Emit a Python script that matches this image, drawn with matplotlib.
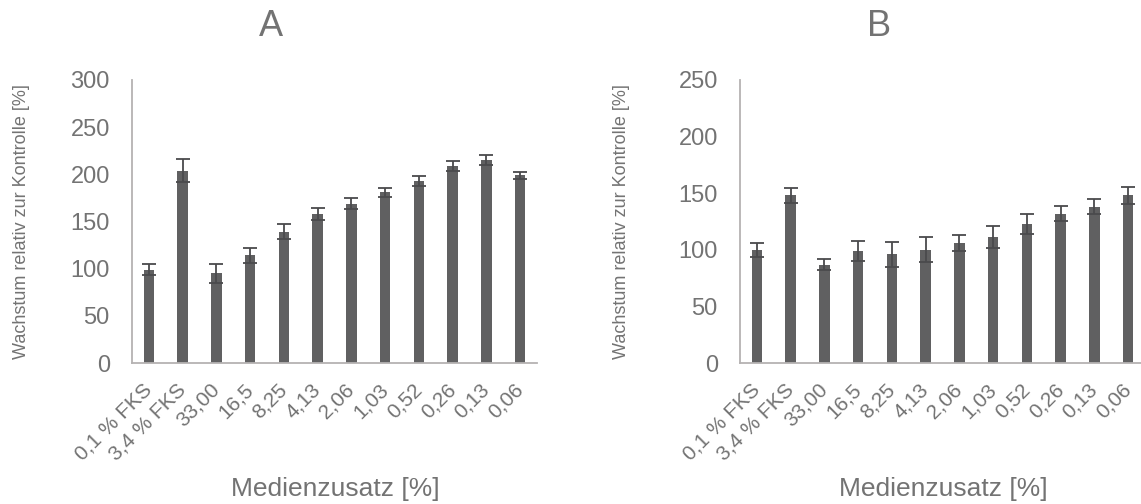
import matplotlib
matplotlib.use("Agg")
import matplotlib.pyplot as plt
import numpy as np

plt.rcParams["font.family"] = ["Liberation Sans", "DejaVu Sans"]

categories = ["0,1 % FKS", "3,4 % FKS", "33,00", "16,5", "8,25", "4,13",
              "2,06", "1,03", "0,52", "0,26", "0,13", "0,06"]

growth_a = [99, 204, 95, 114, 139, 158, 169, 181, 193, 209, 215, 199]
error_a = [6, 12, 10, 8, 8, 6, 6, 5, 5, 5, 5, 4]

growth_b = [100, 148, 87, 99, 96, 100, 106, 111.5, 123, 132, 138, 148]
error_b = [6, 7, 5, 9, 11, 11, 7, 9.5, 9, 6.5, 6.5, 7.5]

panels = [
    ("A", growth_a, error_a, 300, 132, 22),
    ("B", growth_b, error_b, 250, 740, 622),
]

W, H = 1141, 504
fig = plt.figure(figsize=(W / 100, H / 100), dpi=100)

bar_color = "#606061"
err_color = "#4a4a4c"
text_color = "#737373"
spine_color = "#b5b2b2"

ax_w, ax_top, ax_bot = 405, 80, 363

for title, vals, errs, ymax, left, ylab_x in panels:
    ax = fig.add_axes([left / W, 1 - ax_bot / H, ax_w / W, (ax_bot - ax_top) / H])
    x = np.arange(len(categories))
    ax.bar(x, vals, width=0.31, color=bar_color, zorder=2)
    ax.errorbar(x, vals, yerr=errs, fmt="none", ecolor=err_color,
                elinewidth=1.3, capsize=4.8, capthick=1.3, zorder=3)
    ax.set_xlim(-0.5, len(categories) - 0.5)
    ax.set_ylim(0, ymax)
    ax.set_yticks(np.arange(0, ymax + 1, 50))
    ax.set_xticks(x)
    ax.set_xticklabels(categories, rotation=45, ha="right", va="center",
                       rotation_mode="anchor", fontsize=15, color=text_color)
    ax.tick_params(axis="x", length=0, pad=17)
    ax.tick_params(axis="y", length=0, pad=16, labelsize=17, labelcolor=text_color)
    for s in ("top", "right"):
        ax.spines[s].set_visible(False)
    for s in ("left", "bottom"):
        ax.spines[s].set_color(spine_color)
        ax.spines[s].set_linewidth(1.3)

    fig.text((left + 139) / W, 1 - 26 / H, title, ha="center", va="center",
             fontsize=26, color=text_color)
    fig.text(ylab_x / W, 1 - (ax_top + ax_bot) / 2 / H,
             "Wachstum relativ zur Kontrolle [%]", rotation=90,
             ha="center", va="center", fontsize=13, color=text_color)
    fig.text((left + 203) / W, 1 - 489 / H, "Medienzusatz [%]",
             ha="center", va="center", fontsize=19, color=text_color)

fig.savefig("out.png", dpi=100)
